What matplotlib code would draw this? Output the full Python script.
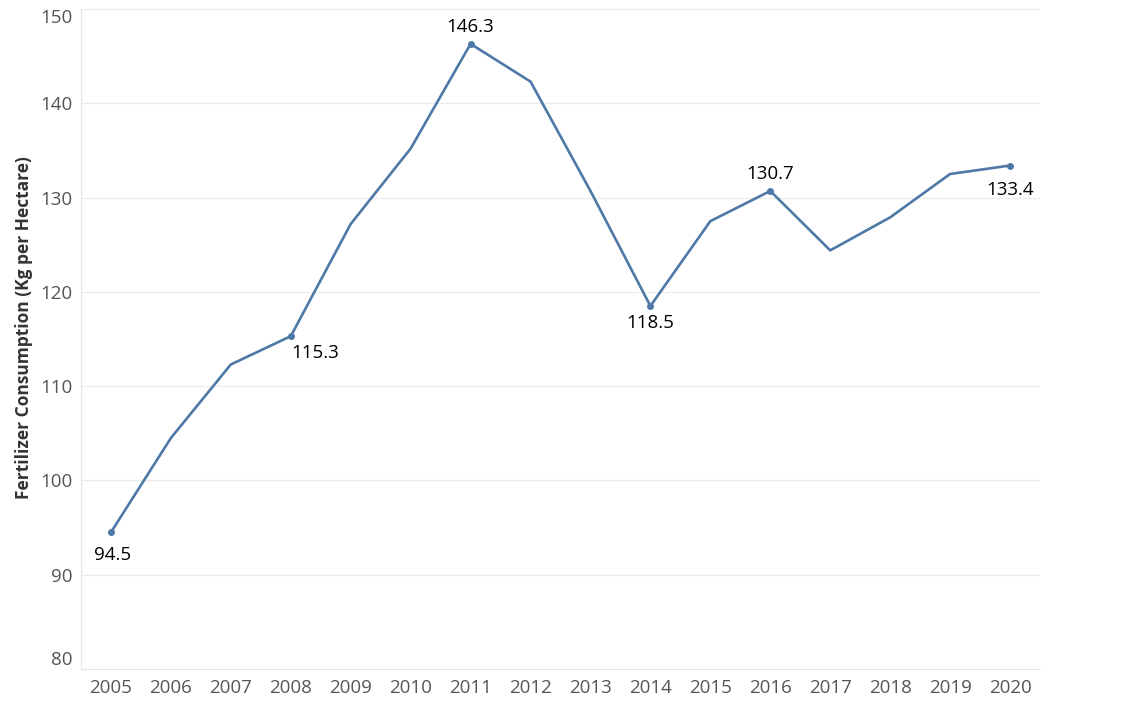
import matplotlib.pyplot as plt

years = list(range(2005, 2021))
consumption = [94.5, 104.5, 112.3, 115.3, 127.2, 135.2, 146.3, 142.3,
               130.7, 118.5, 127.5, 130.7, 124.4, 127.9, 132.5, 133.4]
labeled_years = [2005, 2008, 2011, 2014, 2016, 2020]
y_ticks = [80, 90, 100, 110, 120, 130, 140, 150]

# label offsets in pixels (dx, dy) relative to the point
offsets = {2005: (2, -23), 2008: (24, -17), 2011: (0, 17),
           2014: (0, -17), 2016: (0, 17), 2020: (0, -24)}

line_color = "#4e79a7"
plt.rcParams['font.family'] = ['Open Sans', 'DejaVu Sans']

fig = plt.figure(figsize=(11.27, 7.06), dpi=100)
ax = fig.add_axes([81 / 1127, 1 - 669 / 706, (1040 - 81) / 1127, (669 - 9) / 706])

ax.plot(years, consumption, color=line_color, linewidth=1.9, zorder=3)
lx = [y for y in labeled_years]
ly = [consumption[years.index(y)] for y in labeled_years]
ax.plot(lx, ly, linestyle='none', marker='o', markersize=4, color=line_color, zorder=4)

for yr, val in zip(lx, ly):
    dx, dy = offsets[yr]
    ax.annotate(f"{val:.1f}", (yr, val), xytext=(dx * 0.72, dy * 0.72),
                textcoords='offset points', ha='center', va='center',
                fontsize=13.5, color='black')

ax.set_xlim(2004.5, 2020.5)
ax.set_ylim(80, 150)
ax.set_xticks(years)
ax.set_xticklabels([str(y) for y in years])
ax.set_yticks(y_ticks)
ax.set_yticklabels([str(t) for t in y_ticks])

ax.tick_params(axis='both', length=0, labelsize=13.5, labelcolor='#555555')
ax.tick_params(axis='x', pad=7)
ax.tick_params(axis='y', pad=6)
labels = ax.get_yticklabels()
labels[0].set_va('bottom')
labels[-1].set_va('top')

for t in y_ticks[1:]:
    ax.axhline(t, color='#ececec', linewidth=0.8, zorder=1)

for side in ['top', 'right']:
    ax.spines[side].set_visible(False)
for side in ['left', 'bottom']:
    ax.spines[side].set_color('#e6e6e6')
    ax.spines[side].set_linewidth(0.8)

ax.set_ylabel("Fertilizer Consumption (Kg per Hectare)", fontsize=12.5,
              fontweight='bold', color='#333333')
ax.yaxis.set_label_coords((33 - 81) / (1040 - 81), (669 - 328) / (669 - 9))

fig.savefig("out.png", dpi=100, facecolor='white')
